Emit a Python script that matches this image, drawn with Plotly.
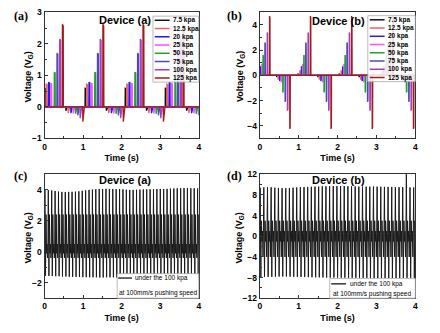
import plotly.graph_objects as go

# ---------------- data ----------------
series_names = ["7.5 kpa", "12.5 kpa", "20 kpa", "25 kpa", "50 kpa", "75 kpa", "100 kpa", "125 kpa"]
series_colors = ["#111111", "#f2625c", "#1c1cf5", "#ff50ff", "#24a02c", "#4c4cae", "#a63cbe", "#a01c1c"]

# Panel (a): Device (a) step-pressure response
a_cycle_starts = [0.0, 1.05, 2.09, 3.13]
a_pos_offsets = [0.0, 0.04, 0.10, 0.16, 0.25, 0.32, 0.39, 0.46]
a_pos_peaks = [0.59, 0.72, 0.78, 0.74, 1.10, 1.70, 2.15, 2.62]
a_neg_offsets = [0.55, 0.61, 0.68, 0.74, 0.80, 0.86, 0.92, 0.99]
a_neg_peaks = [-0.12, -0.20, -0.20, -0.21, -0.22, -0.27, -0.36, -0.47]

# Panel (b): Device (b) step-pressure response
b_pos_times = [0.25, 1.30, 2.36, 3.42]
b_pos_offsets = [-0.32, -0.27, -0.23, -0.20, -0.17, -0.12, -0.06, 0.0]
b_pos_peaks = [0.10, 0.35, 0.70, 0.90, 1.60, 2.60, 3.40, 4.70]
b_neg_times = [0.77, 1.83, 2.89, 3.95]
b_neg_offsets = [-0.34, -0.30, -0.26, -0.22, -0.18, -0.12, -0.06, 0.0]
b_neg_peaks = [-0.10, -0.30, -0.40, -0.50, -1.35, -2.10, -2.80, -4.25]

# Panel (c): Device (a) continuous pushing
c_period = 0.088
c_peaks = [4.00, 3.98, 3.95, 3.92, 3.88,
           3.86, 3.85, 3.86, 3.87, 3.88,
           3.90, 3.93, 3.96, 3.99, 4.01,
           4.03, 4.05, 4.05, 4.06, 4.05,
           4.05, 4.04, 4.04, 4.02, 4.00,
           3.99, 3.99, 4.00, 4.01, 4.02,
           4.02, 4.03, 4.03, 4.04, 4.05,
           4.05, 4.06, 4.07, 4.08, 4.09,
           4.10, 4.11, 4.11, 4.10, 4.10,
           4.08]
c_troughs = [-1.55, -1.56, -1.57, -1.58, -1.58, -1.60, -1.60, -1.61, -1.62, -1.62,
             -1.63, -1.64, -1.64, -1.65, -1.65, -1.65, -1.66, -1.66, -1.65, -1.65,
             -1.65, -1.66, -1.66, -1.65, -1.65, -1.64, -1.64, -1.65, -1.66, -1.66,
             -1.67, -1.67, -1.68, -1.68, -1.68, -1.69, -1.69, -1.70, -1.70, -1.70,
             -1.70, -1.71, -1.71, -1.70, -1.70, -1.70]
c_mid_levels = [0.3, 2.4, -0.1, 0.5, -0.4]

# Panel (d): Device (b) continuous pushing
d_period = 0.094
d_peaks = [9.40, 9.45, 9.50, 9.48, 9.40,
           9.35, 9.30, 9.30, 9.35, 9.40,
           9.45, 9.48, 9.50, 9.55, 9.58,
           9.60, 9.62, 9.65, 9.68, 9.70,
           9.72, 9.72, 9.70, 9.70, 9.68,
           9.66, 9.65, 9.62, 9.62, 9.60,
           9.60, 9.62, 9.60, 9.58, 9.56,
           9.55, 9.55, 9.52, 9.50, 9.50,
           12.6, 9.45, 9.42]
d_troughs = [-7.90, -7.88, -7.85, -7.85, -7.82, -7.80, -7.80, -7.80, -7.82, -7.84,
             -7.86, -7.88, -7.90, -7.92, -7.94, -7.95, -7.96, -7.98, -8.00, -8.00,
             -8.01, -8.02, -8.02, -8.02, -8.03, -8.03, -8.04, -8.05, -8.05, -8.06,
             -8.06, -8.07, -8.08, -8.08, -8.09, -8.10, -8.10, -8.10, -8.10, -8.08,
             -8.06, -8.05, -8.05]
d_mid_levels = [0.5, 3.0, -1.0, 1.0, -4.0]

cont_legend = ["under the 100 kpa", "at 100mm/s pushing speed"]
x_ticks = [0, 1, 2, 3, 4]

# ---------------- helpers ----------------
W, H = 440, 333
FONT = "Liberation Sans, Arial, sans-serif"


def fx(px):
    return px / W


def fy(py):
    return 1 - py / H


def spikes(events, pos_shape, neg_shape):
    xs, ys = [-0.2], [0.0]
    for t, a in sorted(events):
        shape = pos_shape if a > 0 else neg_shape
        for dt, f in shape:
            xs.append(t + dt)
            ys.append(a * f)
    xs.append(4.3)
    ys.append(0.0)
    return xs, ys


def continuous(period, peaks, troughs, mids):
    fr = [0.0, 0.12, 0.30, 0.45, 0.60, 0.75, 0.90]
    xs, ys = [], []
    for k, (p, q) in enumerate(zip(peaks, troughs)):
        s = k * period
        lv = [mids[0], p, q, mids[1], mids[2], mids[3], mids[4]]
        for f, v in zip(fr, lv):
            xs.append(s + f * period)
            ys.append(v)
    return xs, ys


fig = go.Figure()

pos_a = [(0, 0), (0.004, 1), (0.026, 0.98), (0.030, 0)]
neg_a = [(0, 0), (0.004, 1), (0.045, 0)]
pos_b = [(0, 0), (0.003, 1), (0.013, 0.97), (0.016, 0)]
neg_b = [(0, 0), (0.003, 1), (0.013, 0.97), (0.016, 0)]

for i, name in enumerate(series_names):
    ev = []
    for s in a_cycle_starts:
        ev.append((s + a_pos_offsets[i], a_pos_peaks[i]))
        ev.append((s + a_neg_offsets[i], a_neg_peaks[i]))
    xs, ys = spikes(ev, pos_a, neg_a)
    fig.add_trace(go.Scatter(x=xs, y=ys, mode="lines", name=name, showlegend=False,
                             line=dict(color=series_colors[i], width=1.3),
                             xaxis="x", yaxis="y"))
for i, name in enumerate(series_names):
    ev = []
    for t in b_pos_times:
        ev.append((t + b_pos_offsets[i], b_pos_peaks[i]))
    for t in b_neg_times:
        ev.append((t + b_neg_offsets[i], b_neg_peaks[i]))
    xs, ys = spikes(ev, pos_b, neg_b)
    fig.add_trace(go.Scatter(x=xs, y=ys, mode="lines", name=name, showlegend=False,
                             line=dict(color=series_colors[i], width=1.3),
                             xaxis="x2", yaxis="y2"))

xs, ys = continuous(c_period, c_peaks, c_troughs, c_mid_levels)
fig.add_trace(go.Scatter(x=xs, y=ys, mode="lines", showlegend=False,
                         line=dict(color="#1a1a1a", width=1), xaxis="x3", yaxis="y3"))
xs, ys = continuous(d_period, d_peaks, d_troughs, d_mid_levels)
fig.add_trace(go.Scatter(x=xs, y=ys, mode="lines", showlegend=False,
                         line=dict(color="#1a1a1a", width=1), xaxis="x4", yaxis="y4"))

# ---------------- axes ----------------
tickfont = dict(family=FONT, size=8.5, color="black", weight="bold")
titlefont = dict(family=FONT, size=9, color="black", weight="bold")


def xax(dom, anchor):
    return dict(domain=dom, anchor=anchor, range=[0, 4], tickvals=x_ticks,
                showline=True, linecolor="#333", linewidth=1, mirror=True,
                ticks="inside", ticklen=3, tickcolor="#333",
                minor=dict(ticks="inside", ticklen=2, dtick=0.5, tickcolor="#333"),
                showgrid=False, zeroline=False, tickfont=tickfont,
                title=dict(text="Time (s)", font=titlefont, standoff=4))


def yax(dom, anchor, rng, dtick, mdt):
    return dict(domain=dom, anchor=anchor, range=rng, dtick=dtick, tick0=0,
                showline=True, linecolor="#333", linewidth=1, mirror=True,
                ticks="inside", ticklen=3, tickcolor="#333",
                minor=dict(ticks="inside", ticklen=2, dtick=mdt, tickcolor="#333"),
                showgrid=False, zeroline=False, tickfont=tickfont)


ax_l = [fx(43), fx(199)]
ax_r = [fx(260.7), fx(418)]
top_dom = [fy(137.5), fy(7.5)]
bot_dom = [fy(302.3), fy(174.5)]

fig.update_layout(
    width=W, height=H, margin=dict(l=0, r=0, t=0, b=0),
    paper_bgcolor="white", plot_bgcolor="white", showlegend=False,
    font=dict(family=FONT, color="black"),
    xaxis=xax(ax_l, "y"), yaxis=yax(top_dom, "x", [-1, 3], 1, 0.5),
    xaxis2=xax(ax_r, "y2"), yaxis2=yax(top_dom, "x2", [-5, 5], 2, 1),
    xaxis3=xax(ax_l, "y3"), yaxis3=yax(bot_dom, "x3", [-3, 5], 2, 1),
    xaxis4=xax(ax_r, "y4"), yaxis4=yax(bot_dom, "x4", [-12, 12], 4, 2),
)

ann = []
shapes = []

# y-axis titles
for x, y in [(27, 74), (242, 74), (27, 240), (240.5, 240)]:
    ann.append(dict(text="Voltage (V<sub>G</sub>)", x=fx(x), y=fy(y), xref="paper", yref="paper",
                    showarrow=False, xanchor="center", yanchor="middle", textangle=-90,
                    font=titlefont))

# panel labels
for lab, x, y in [("(a)", 19, 11), ("(b)", 235.5, 11), ("(c)", 19, 176), ("(d)", 235.5, 176)]:
    ann.append(dict(text=lab, x=fx(x), y=fy(y), xref="paper", yref="paper",
                    showarrow=False, xanchor="center", yanchor="middle",
                    font=dict(family="Liberation Serif, Times New Roman, serif", size=12, weight="bold")))
# device labels
for lab, x, y in [("Device (a)", 124.5, 15), ("Device (b)", 340.5, 16),
                  ("Device (a)", 124.5, 180.5), ("Device (b)", 340.5, 180.5)]:
    ann.append(dict(text=lab, x=fx(x), y=fy(y), xref="paper", yref="paper",
                    showarrow=False, xanchor="center", yanchor="middle",
                    font=dict(family=FONT, size=11, weight="bold")))

# custom legends for (a) and (b)
for (bx0, bx1, by0, by1, lx0, lx1, tx) in [(152.7, 199, 11.5, 79.5, 154.5, 169.5, 171.3),
                                           (370, 418, 11, 79, 372, 387, 388.5)]:
    shapes.append(dict(type="rect", xref="paper", yref="paper",
                       x0=fx(bx0), x1=fx(bx1), y0=fy(by1), y1=fy(by0),
                       fillcolor="rgba(255,255,255,0.85)", line=dict(color="#aaaaaa", width=0.8)))
    rh = (by1 - by0) / len(series_names)
    for i, name in enumerate(series_names):
        yc = by0 + rh * (i + 0.5)
        shapes.append(dict(type="line", xref="paper", yref="paper",
                           x0=fx(lx0), x1=fx(lx1), y0=fy(yc), y1=fy(yc),
                           line=dict(color=series_colors[i], width=1.5)))
        ann.append(dict(text=name, x=fx(tx), y=fy(yc), xref="paper", yref="paper",
                        showarrow=False, xanchor="left", yanchor="middle",
                        font=dict(family=FONT, size=6.5, weight="bold")))

# legends for (c) and (d)
for (bx0, bx1, by0, by1, lx0, lx1, tx, r1, r2) in [(116.5, 199, 277, 302.3, 117.5, 131.5, 133, 281.5, 296.5),
                                                    (331.5, 418, 282, 302.3, 333, 348, 350, 287.5, 297.5)]:
    shapes.append(dict(type="rect", xref="paper", yref="paper",
                       x0=fx(bx0), x1=fx(bx1), y0=fy(by1), y1=fy(by0),
                       fillcolor="white", line=dict(color="#aaaaaa", width=0.8)))
    shapes.append(dict(type="line", xref="paper", yref="paper",
                       x0=fx(lx0), x1=fx(lx1), y0=fy(r1), y1=fy(r1),
                       line=dict(color="black", width=1.2)))
    ann.append(dict(text=cont_legend[0], x=fx(tx), y=fy(r1), xref="paper", yref="paper",
                    showarrow=False, xanchor="left", yanchor="middle",
                    font=dict(family=FONT, size=6.5)))
    ann.append(dict(text=cont_legend[1], x=fx((bx0 + bx1) / 2), y=fy(r2), xref="paper", yref="paper",
                    showarrow=False, xanchor="center", yanchor="middle",
                    font=dict(family=FONT, size=6.5)))

fig.update_layout(annotations=ann, shapes=shapes)
fig.write_html("out.html")
